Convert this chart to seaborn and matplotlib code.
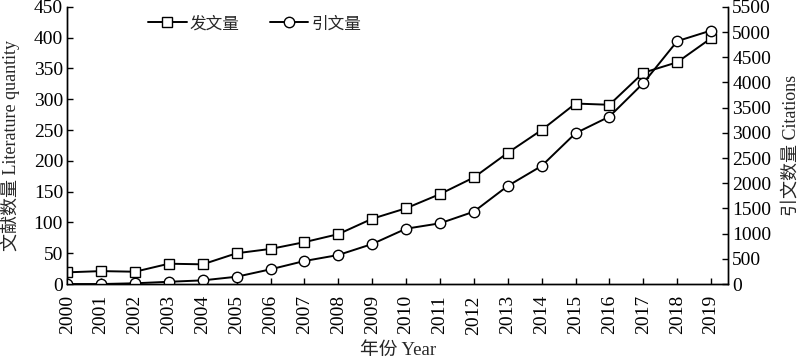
import numpy as np
import pandas as pd
import matplotlib
matplotlib.use("Agg")
import matplotlib.pyplot as plt
import seaborn as sns

years = [str(y) for y in range(2000, 2020)]
papers = [19, 21, 20, 33, 32, 50, 57, 68, 81, 106, 123, 146, 173, 213, 250, 293, 291, 343, 360, 399]
citations = [0, 0, 15, 45, 73, 145, 292, 457, 576, 794, 1098, 1205, 1436, 1946, 2343, 2992, 3322, 3985, 4819, 5030]

sns.set_style("ticks")
fonts = ["Liberation Serif", "Noto Sans CJK SC"]
plt.rcParams["font.family"] = fonts
plt.rcParams["font.size"] = 14
plt.rcParams["axes.linewidth"] = 1.0

df = pd.DataFrame({"year": years, "x": np.arange(len(years)), "papers": papers, "citations": citations})

fig = plt.figure(figsize=(8, 3.6), dpi=100)
ax = fig.add_axes([0.084, 0.211, 0.826, 0.77])
ax2 = ax.twinx()

mk = dict(markersize=7.5, markerfacecolor="white", markeredgecolor="black", markeredgewidth=1.0)
sns.lineplot(data=df, x="x", y="papers", ax=ax, color="black", lw=1.4, marker="s", label="发文量", legend=False, **mk)
sns.lineplot(data=df, x="x", y="citations", ax=ax2, color="black", lw=1.4, marker="o", label="引文量", legend=False, **mk)

ax.set_xlim(0, 19.5)
ax.set_ylim(0, 450)
ax.set_yticks(range(0, 451, 50))
ax2.set_ylim(0, 5500)
ax2.set_yticks(range(0, 5501, 500))
ax.set_xticks(df["x"])
ax.set_xticklabels(years, rotation=90)

for a in (ax, ax2):
    a.tick_params(direction="in", length=4, width=1.0, colors="black", labelsize=14, pad=3)
    for s in a.spines.values():
        s.set_color("black")
ax.tick_params(axis="x", pad=8)
ax.spines["top"].set_visible(False)
ax2.spines["top"].set_visible(False)

ax.set_xlabel("年份 Year", fontsize=13.5)
ax.set_ylabel("文献数量 Literature quantity", fontsize=13)
ax2.set_ylabel("引文数量 Citations", fontsize=13)
ax.xaxis.set_label_coords(0.5, -0.21)
ax.yaxis.set_label_coords(-0.072, 0.5)
ax2.yaxis.set_label_coords(1.082, 0.5)

h1, l1 = ax.get_legend_handles_labels()
h2, l2 = ax2.get_legend_handles_labels()
ax.legend(h1 + h2, l1 + l2, loc="upper left", bbox_to_anchor=(0.1, 1.02), ncol=2, frameon=False,
          fontsize=12, handlelength=2.3, columnspacing=1.8, handletextpad=0.2)

fig.savefig("out.png", dpi=100)
